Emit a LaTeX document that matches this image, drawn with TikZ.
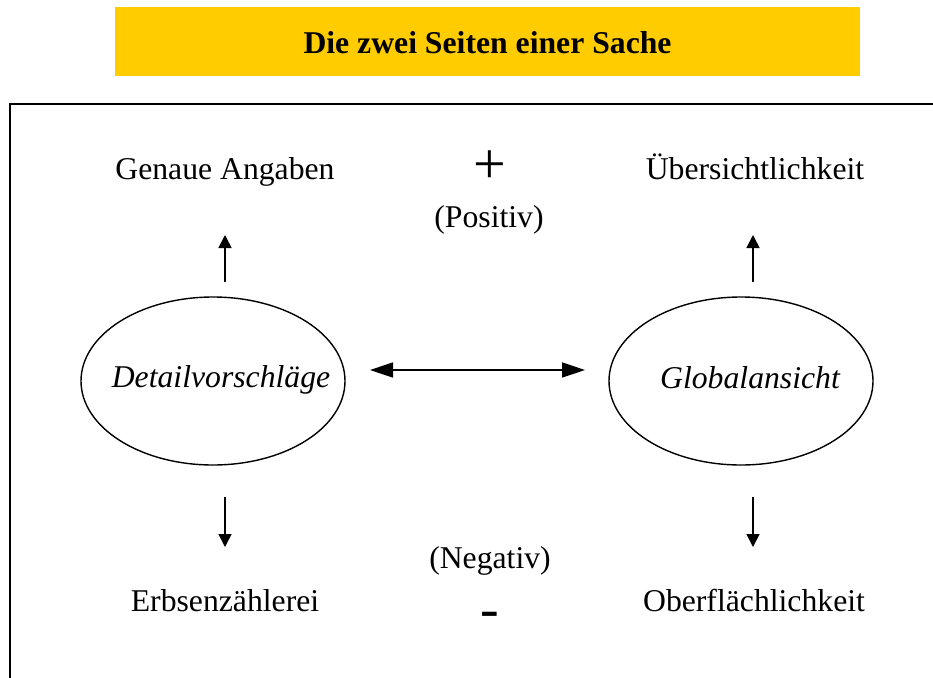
\documentclass[tikz,border=0pt]{standalone}
\usepackage{fontspec}
\setmainfont{Liberation Serif}[
  BoldFont={Liberation Serif Bold},
  ItalicFont={Liberation Serif Italic},
  BoldItalicFont={Liberation Serif Bold Italic}]
\usetikzlibrary{arrows.meta,shapes.geometric}
\definecolor{titlegold}{HTML}{FFCC00}
\begin{document}
\begin{tikzpicture}[x=1pt,y=-1pt,
  txt/.style={font=\fontsize{31.7}{38}\selectfont, inner sep=0pt, anchor=base},
  oval/.style={draw, ellipse, line width=1.4pt, minimum width=264pt, minimum height=168pt, inner sep=0pt},
  bigarrow/.style={line width=1.6pt, {Triangle[length=23pt,width=15pt]}-{Triangle[length=23pt,width=15pt]}},
  smallarrow/.style={line width=1.6pt, -{Triangle[length=13pt,width=13pt]}}]
  \useasboundingbox (0,0) rectangle (933,677);

  % title bar
  \node[fill=titlegold, minimum width=745pt, minimum height=69pt, inner sep=0pt] (titlebar) at (487.5,41.5) {};
  \node[txt, font=\fontsize{31.7}{38}\selectfont\bfseries] (title) at (487.5,53) {Die zwei Seiten einer Sache};

  % open frame
  \coordinate (fbl) at (10,690);
  \coordinate (ftl) at (10,104);
  \coordinate (ftr) at (945,104);
  \draw[line width=2pt] (fbl) -- (ftl) -- (ftr);

  % the two views
  \node[oval] (detail) at (213,381) {};
  \node[oval] (global) at (741,381) {};
  \node[txt, font=\fontsize{31.7}{38}\selectfont\itshape] (detailtext) at (221,387) {Detailvorschläge};
  \node[txt, font=\fontsize{31.7}{38}\selectfont\itshape] (globaltext) at (750,388) {Globalansicht};

  % upper and lower labels
  \node[txt] (genau) at (225,179) {Genaue Angaben};
  \node[txt] (ueber) at (755,179) {Übersichtlichkeit};
  \node[txt] (erbsen) at (225,611) {Erbsenzählerei};
  \node[txt] (ober) at (754,611) {Oberflächlichkeit};
  \node[txt] (positiv) at (489,227) {(Positiv)};
  \node[txt] (negativ) at (490,568) {(Negativ)};
  \node[inner sep=0pt, font=\fontsize{58}{66}\selectfont] (plus) at (490,167) {+};
  \node[inner sep=0pt, anchor=base, font=\fontsize{56}{64}\selectfont] (minus) at (490,627) {-};

  % connectors
  \coordinate (dl) at (370,370);
  \coordinate (dr) at (585,370);
  \draw[bigarrow] (dl) -- (dr);

  \coordinate (lu0) at (225,282);
  \coordinate (lu1) at (225,235);
  \coordinate (ld0) at (225,497);
  \coordinate (ld1) at (225,547);
  \coordinate (ru0) at (753,282);
  \coordinate (ru1) at (753,235);
  \coordinate (rd0) at (753,497);
  \coordinate (rd1) at (753,547);
  \draw[smallarrow] (lu0) -- (lu1);
  \draw[smallarrow] (ld0) -- (ld1);
  \draw[smallarrow] (ru0) -- (ru1);
  \draw[smallarrow] (rd0) -- (rd1);
\end{tikzpicture}
\end{document}
